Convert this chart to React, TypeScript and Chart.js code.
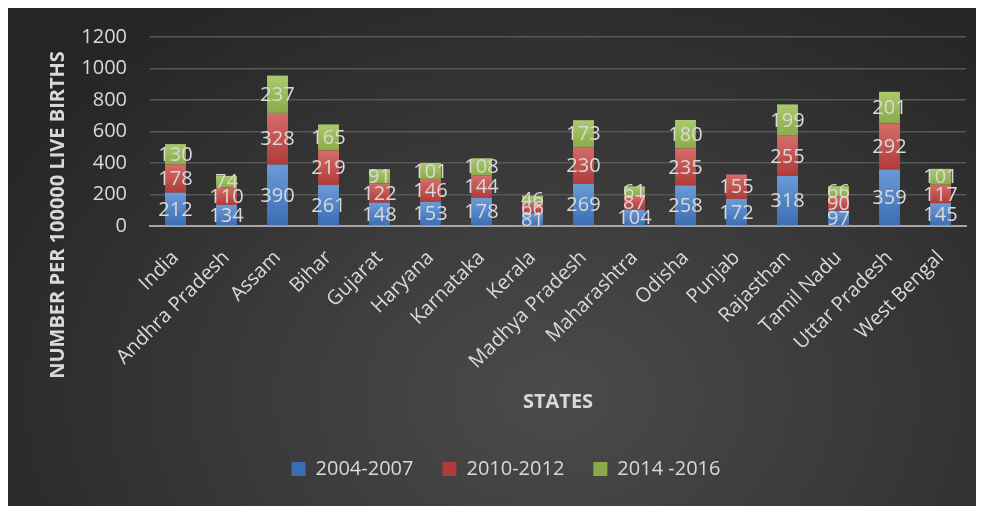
import React, { useEffect, useRef } from 'react';
import { Chart, registerables } from 'chart.js';

Chart.register(...registerables);

// Maternal mortality ratio by state (per 100000 live births)
const states = [
  'India', 'Andhra Pradesh', 'Assam', 'Bihar', 'Gujarat', 'Haryana', 'Karnataka', 'Kerala',
  'Madhya Pradesh', 'Maharashtra', 'Odisha', 'Punjab', 'Rajasthan', 'Tamil Nadu', 'Uttar Pradesh', 'West Bengal',
];
const mmr2004to2007 = [212, 134, 390, 261, 148, 153, 178, 81, 269, 104, 258, 172, 318, 97, 359, 145];
const mmr2010to2012 = [178, 110, 328, 219, 122, 146, 144, 66, 230, 87, 235, 155, 255, 90, 292, 117];
const mmr2014to2016 = [130, 74, 237, 165, 91, 101, 108, 46, 173, 61, 180, null, 199, 66, 201, 101];
const seriesLabels = ['2004-2007', '2010-2012', '2014 -2016'];
const yTicks = [0, 200, 400, 600, 800, 1000, 1200];

// [flat, top-light, bottom-dark]
const seriesColors = [
  ['#4f81bd', '#6b9bd7', '#3b6db3'],
  ['#c0504d', '#d46d6a', '#b03c39'],
  ['#9bbb59', '#abc96e', '#8aac48'],
];

const FONT = '"Open Sans", "Noto Sans", sans-serif';
const TEXT = '#d9d9d9';

function segmentFill(palette: string[]) {
  return (ctx: any) => {
    const chart = ctx.chart;
    if (ctx.type !== 'data' || !chart.chartArea) return palette[0];
    const y = chart.scales.y;
    const i = ctx.dataIndex;
    let base = 0;
    for (let d = 0; d < ctx.datasetIndex; d++) base += chart.data.datasets[d].data[i] ?? 0;
    const v = ctx.raw ?? 0;
    const top = y.getPixelForValue(base + v);
    const bot = y.getPixelForValue(base);
    if (!isFinite(top) || !isFinite(bot) || top === bot) return palette[0];
    const g = chart.ctx.createLinearGradient(0, top, 0, bot);
    g.addColorStop(0, palette[1]);
    g.addColorStop(1, palette[2]);
    return g;
  };
}

const segmentLabels = {
  id: 'segmentLabels',
  afterDatasetsDraw(chart: any) {
    const { ctx } = chart;
    ctx.save();
    ctx.font = `20px ${FONT}`;
    ctx.fillStyle = TEXT;
    ctx.textAlign = 'center';
    ctx.textBaseline = 'middle';
    chart.data.datasets.forEach((ds: any, d: number) => {
      const meta = chart.getDatasetMeta(d);
      meta.data.forEach((bar: any, i: number) => {
        const v = ds.data[i];
        if (v == null) return;
        const { x, y, base } = bar.getProps(['x', 'y', 'base'], true);
        ctx.fillText(String(v), x, (y + base) / 2 + 1);
      });
    });
    ctx.restore();
  },
};

const valueAxisTitle = {
  id: 'valueAxisTitle',
  afterDraw(chart: any) {
    const { ctx } = chart;
    ctx.save();
    ctx.translate(50, 207);
    ctx.rotate(-Math.PI / 2);
    ctx.font = `bold 20px ${FONT}`;
    ctx.fillStyle = TEXT;
    ctx.textAlign = 'center';
    ctx.textBaseline = 'middle';
    ctx.fillText('NUMBER PER 100000 LIVE BIRTHS', 0, 0);
    ctx.restore();
  },
};

export default function App() {
  const canvasRef = useRef<HTMLCanvasElement>(null);

  useEffect(() => {
    document.documentElement.style.overflow = 'hidden';
    const values = [mmr2004to2007, mmr2010to2012, mmr2014to2016];
    const chart = new Chart(canvasRef.current!, {
      type: 'bar',
      data: {
        labels: states,
        datasets: values.map((data, k) => ({
          label: seriesLabels[k],
          data,
          backgroundColor: segmentFill(seriesColors[k]),
          borderWidth: 0,
          barPercentage: 0.41,
          categoryPercentage: 1,
        })),
      },
      options: {
        animation: false,
        responsive: true,
        maintainAspectRatio: false,
        layout: { padding: { left: 38, right: 18, top: 29, bottom: 17 } },
        plugins: {
          legend: {
            position: 'bottom',
            labels: {
              font: { family: FONT, size: 20 },
              color: TEXT,
              boxWidth: 14,
              boxHeight: 14,
              padding: 29,
            },
          },
          tooltip: { enabled: false },
        },
        scales: {
          x: {
            stacked: true,
            grid: { display: false },
            border: { display: true, color: '#a6a6a6', width: 2 },
            ticks: {
              autoSkip: false,
              minRotation: 45,
              maxRotation: 45,
              padding: 12,
              color: TEXT,
              font: { family: FONT, size: 20 },
            },
            title: {
              display: true,
              text: 'STATES',
              color: TEXT,
              font: { family: FONT, size: 20, weight: 'bold' },
              padding: { top: 0, bottom: 16 },
            },
            afterFit(scale: any) {
              scale.height = 204;
            },
          },
          y: {
            stacked: true,
            min: 0,
            max: 1200,
            afterBuildTicks(scale: any) {
              scale.ticks = yTicks.map((value) => ({ value }));
            },
            grid: {
              color: (c: any) => (c.tick && c.tick.value === 0 ? 'rgba(0,0,0,0)' : '#575757'),
              lineWidth: 1.5,
              drawTicks: true,
              tickLength: 23,
              tickColor: 'rgba(0,0,0,0)',
            },
            border: { display: false },
            ticks: {
              padding: 0,
              color: TEXT,
              font: { family: FONT, size: 20 },
              callback: (v: any) => String(v),
            },
            afterFit(scale: any) {
              scale.width = 104;
            },
          },
        },
      },
      plugins: [segmentLabels, valueAxisTitle],
    });
    return () => chart.destroy();
  }, []);

  return (
    <div
      style={{
        position: 'relative',
        width: 976,
        height: 498,
        background:
          'radial-gradient(ellipse 65% 95% at 56% 78%, #4b4b4b 0%, #3b3b3b 45%, #262626 100%)',
      }}
    >
      <canvas ref={canvasRef} />
    </div>
  );
}
